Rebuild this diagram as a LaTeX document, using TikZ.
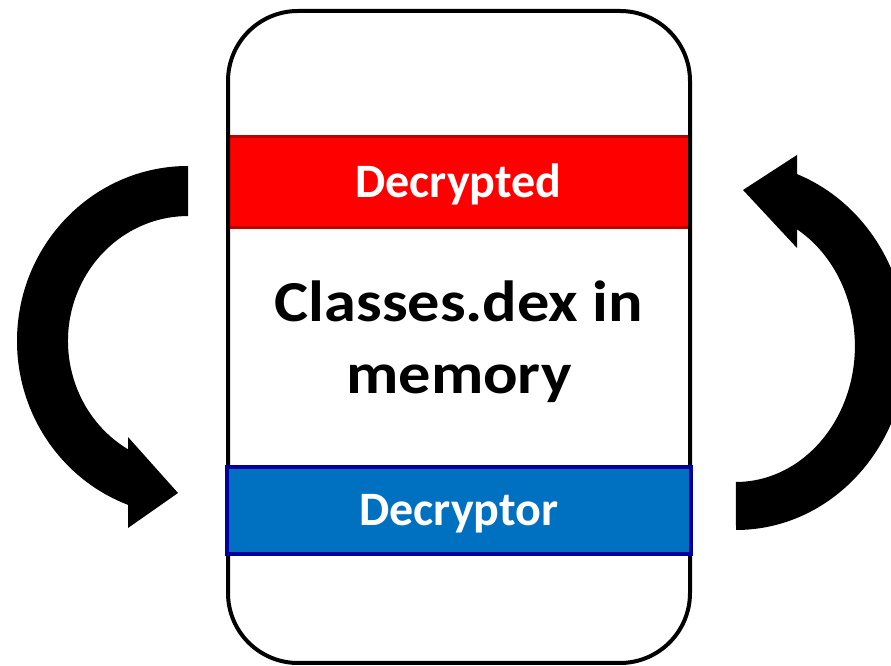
\documentclass[tikz,border=0pt]{standalone}
\usepackage{fontspec}
\setmainfont{Carlito}
\newfontfamily\dexfont[FakeStretch=1.11]{Carlito}
\definecolor{decred}{HTML}{FF0000}
\definecolor{decredline}{HTML}{C00000}
\definecolor{decblue}{HTML}{0070C0}
\definecolor{decblueline}{HTML}{0000A0}
\begin{document}
\begin{tikzpicture}[x=1pt, y=1pt,
    bar/.style={inner sep=0pt, text=white, font=\fontsize{48}{50}\selectfont\bfseries,
                text height=30pt, text depth=0pt},
    loop arrow/.style={fill=black}]
      \clip (0,0) rectangle (891,666);
      \node[bar, fill=decred, draw=decredline, line width=3pt,
            minimum width=461pt, minimum height=91pt] (decrypted) at (458.5,483.5) {Decrypted};
      \node[draw, line width=4pt, rounded corners=70pt,
            minimum width=462pt, minimum height=652pt] (phone) at (459,329) {};
      \node[bar, fill=decblue, draw=decblueline, line width=4pt,
            minimum width=464pt, minimum height=87pt] (decryptor) at (459,155.5) {Decryptor};
      \node[align=center, font=\dexfont\fontsize{58}{72}\selectfont\bfseries] (dexmem) at (459,324)
            {Classes.dex in\\memory};
      \fill[loop arrow] (188,500) arc[start angle=90, end angle=249.5, x radius=171, y radius=175]
            -- (128,138) -- (178,173) -- (128,229) -- (128,216.7)
            arc[start angle=240, end angle=90, x radius=120, y radius=125] -- cycle;
      \fill[loop arrow] (736,136) arc[start angle=270, end angle=429.1, x radius=171, y radius=184]
            -- (797,511) -- (743,476) -- (797,418) -- (797,436.7)
            arc[start angle=419.1, end angle=270, x radius=119, y radius=136] -- cycle;
\end{tikzpicture}
\end{document}
